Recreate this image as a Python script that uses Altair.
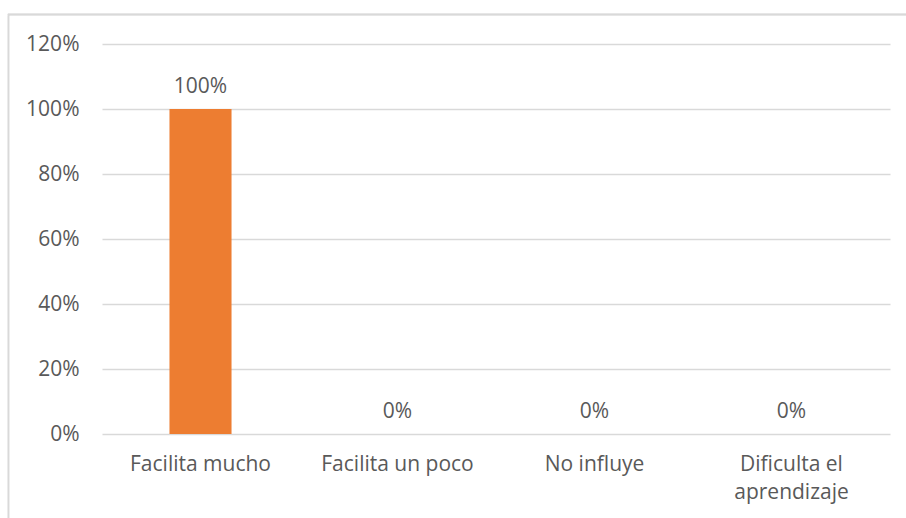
import altair as alt
import pandas as pd

categories = ["Facilita mucho", "Facilita un poco", "No influye", "Dificulta el aprendizaje"]
values = [1.00, 0.00, 0.00, 0.00]
y_ticks = [0, 0.2, 0.4, 0.6, 0.8, 1.0, 1.2]

df = pd.DataFrame({"cat": categories, "val": values})

FONT = "Open Sans"
GREY = "#595959"
FS = 21

x = alt.X("cat:N", sort=categories, title=None,
          scale=alt.Scale(paddingInner=0.685, paddingOuter=0.3425),
          axis=alt.Axis(labelAngle=0, domain=False, ticks=False, labelPadding=19,
                        labelFont=FONT, labelFontSize=FS, labelColor=GREY,
                        labelLineHeight=28, labelLimit=300,
                        labelExpr="datum.label == 'Dificulta el aprendizaje' ? ['Dificulta el', 'aprendizaje'] : datum.label"))
y = alt.Y("val:Q", title=None,
          scale=alt.Scale(domain=[0, 1.2], nice=False),
          axis=alt.Axis(values=y_ticks, format=".0%", domain=False, ticks=False,
                        labelPadding=23, labelFont=FONT, labelFontSize=FS, labelColor=GREY,
                        gridColor="#D9D9D9", gridWidth=1.3))

bars = alt.Chart(df).mark_bar(color="#ED7D31").encode(x=x, y=y)
labels = alt.Chart(df).mark_text(font=FONT, fontSize=FS, color=GREY,
                                 baseline="alphabetic", dy=-16).encode(
    x=alt.X("cat:N", sort=categories), y="val:Q", text=alt.Text("val:Q", format=".0%"))

frame = alt.Chart(df).mark_rect(fill=None, stroke="#D9D9D9", strokeWidth=1.3).encode(
    x=alt.value(-93.5), x2=alt.value(830), y=alt.value(-29.5), y2=alt.value(500))

chart = alt.layer(frame, bars, labels).properties(
    width=788, height=390,
    autosize=alt.AutoSizeParams(type="none"),
    padding={"left": 102, "top": 44, "right": 16, "bottom": 84},
    background="white",
).configure_view(stroke=None)

chart.save("out.html", embed_options={"renderer": "svg", "actions": False})
